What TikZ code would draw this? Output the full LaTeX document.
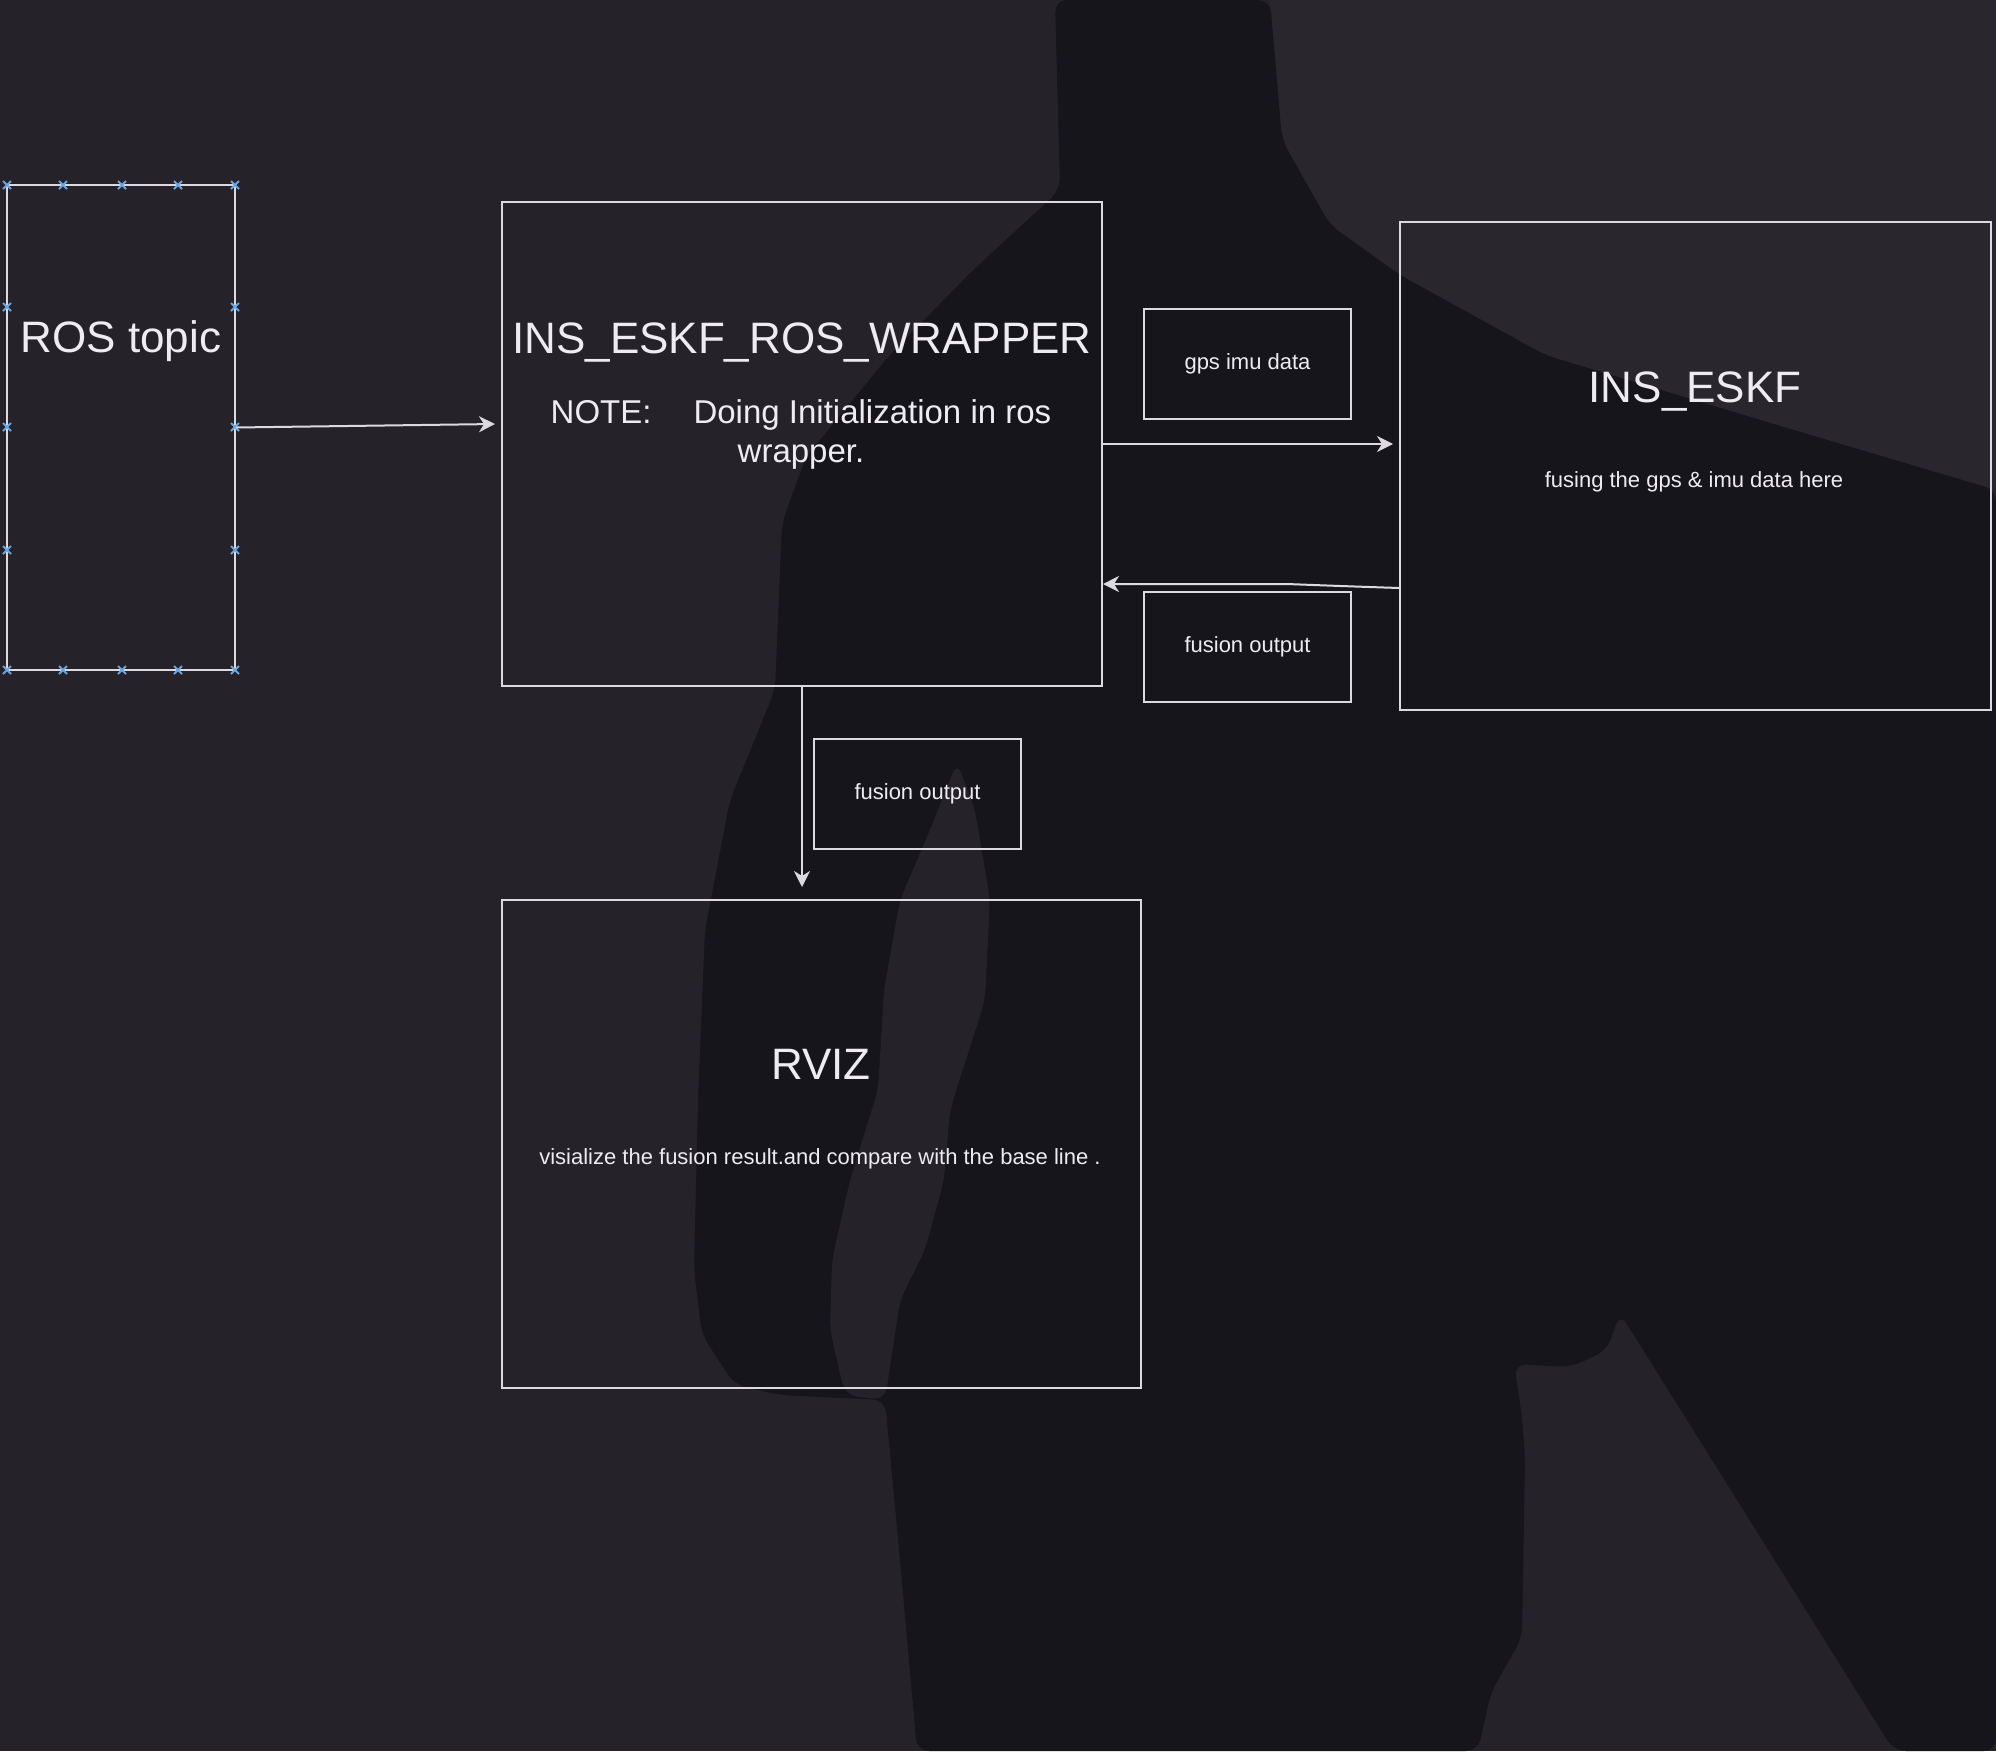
\documentclass[tikz,border=0pt]{standalone}
\usepackage{fontspec}
\setmainfont{Liberation Sans}
\usetikzlibrary{arrows.meta,calc}
\definecolor{bgc}{HTML}{25222A}
\definecolor{bgtop}{HTML}{29262E}
\definecolor{darkc}{HTML}{16151C}
\definecolor{linec}{HTML}{DCDADF}
\definecolor{txtc}{HTML}{EEECF0}
\definecolor{markc}{HTML}{6AA6E0}
\begin{document}
\begin{tikzpicture}[x=0.5pt,y=-0.5pt,
  box/.style={draw=linec, line width=1pt, inner sep=0pt, minimum width=#1},
  big/.style={text=txtc, inner sep=0pt, anchor=base, font=\fontsize{22pt}{26pt}\selectfont},
  mid/.style={text=txtc, inner sep=0pt, anchor=base, font=\fontsize{16.5pt}{20pt}\selectfont},
  small/.style={text=txtc, inner sep=0pt, anchor=base, font=\fontsize{11pt}{13pt}\selectfont},
  lblbox/.style={draw=linec, line width=1pt, inner sep=0pt, text=txtc,
    minimum width=103.5pt, minimum height=55pt, font=\fontsize{11pt}{13pt}\selectfont},
  conn/.style={draw=linec, line width=1pt, -{Stealth[length=8pt,width=8pt,inset=2.5pt]}},
  mk/.style={draw=markc, line width=1pt}]

% background
\fill[bgc] (0,0) rectangle (1996,1751);
\useasboundingbox (0,0) rectangle (1996,1751);
\fill[bgtop] (1270,0) -- (1996,0) -- (1996,490) -- (1777,425) -- (1545,355) -- (1400,275) -- (1330,225) -- (1282,140) -- cycle;

% silhouette
\fill[darkc, rounded corners=6pt] (1055,0) -- (1270,0) -- (1282,140) -- (1330,225) -- (1400,275)
  -- (1545,355) -- (1777,425) -- (1996,490) -- (1996,1751) -- (1894,1751) -- (1620,1313)
  -- (1607,1350) -- (1571,1367) -- (1514,1364) -- (1522,1417) -- (1525,1457) -- (1522,1638)
  -- (1491,1692) -- (1478,1751) -- (917,1751) -- (900,1560) -- (885,1400) -- (780,1395)
  -- (735,1385) -- (702,1335) -- (694,1270) -- (698,1100) -- (705,930) -- (730,800)
  -- (775,690) -- (782,523) -- (806,457) -- (888,357) -- (970,273) -- (1060,190) -- cycle;
\fill[bgc, rounded corners=6pt] (957,762) -- (930,830) -- (900,900) -- (884,990) -- (878,1090)
  -- (850,1180) -- (832,1260) -- (830,1330) -- (845,1395) -- (885,1400) -- (900,1300)
  -- (925,1250) -- (944,1180) -- (950,1110) -- (985,1000) -- (990,900) -- (975,810) -- cycle;

% main boxes
\node[box=114pt, minimum height=242.5pt] (ros) at (121,427.5) {};
\node[box=300pt, minimum height=242pt] (wrapper) at (802,444) {};
\node[box=295.5pt, minimum height=244pt] (eskf) at (1695.5,466) {};
\node[box=319.5pt, minimum height=244pt] (rviz) at (821.5,1144) {};

% label boxes
\node[lblbox] (gps) at (1247.5,364) {gps imu data};
\node[lblbox] (fusr) at (1247.5,647) {fusion output};
\node[lblbox] (fusd) at (917.5,794) {fusion output};

% selection markers on ROS topic
\foreach \mx in {7,63,122,178,235}{
  \foreach \my in {185,670}{
    \draw[mk] (\mx-4,\my-4) -- (\mx+4,\my+4) (\mx-4,\my+4) -- (\mx+4,\my-4);
  }
}
\foreach \mx in {7,235}{
  \foreach \my in {307,427,550}{
    \draw[mk] (\mx-4,\my-4) -- (\mx+4,\my+4) (\mx-4,\my+4) -- (\mx+4,\my-4);
  }
}

% connectors
\coordinate (rosend) at (495,424);
\coordinate (gpsend) at (1393,444);
\coordinate (retbend) at (1287,584);
\coordinate (downend) at (802,887);
\draw[conn] (ros.east) -- (rosend);
\draw[conn] (wrapper.east) -- (gpsend);
\draw[conn] ($(eskf.west)+(0,122)$) .. controls (1340,586) .. (retbend) -- (wrapper.east |- retbend);
\draw[conn] (wrapper.south) -- (downend);

% texts
\node[big] (rostxt) at (121,352) {ROS topic};
\node[big] (wraptitle) at (802,353) {INS\_ESKF\_ROS\_WRAPPER};
\node[mid] (note1) at (801,423) {NOTE:\hspace{21pt}Doing Initialization in ros};
\node[mid] (note2) at (801,462) {wrapper.};
\node[big] (eskftitle) at (1695,402) {INS\_ESKF};
\node[small] (eskfdesc) at (1694,487) {fusing the gps \& imu data here};
\node[big] (rviztitle) at (821,1079) {RVIZ};
\node[small] (rvizdesc) at (820,1164) {visialize the fusion result.and compare with the base line .};
\end{tikzpicture}
\end{document}
